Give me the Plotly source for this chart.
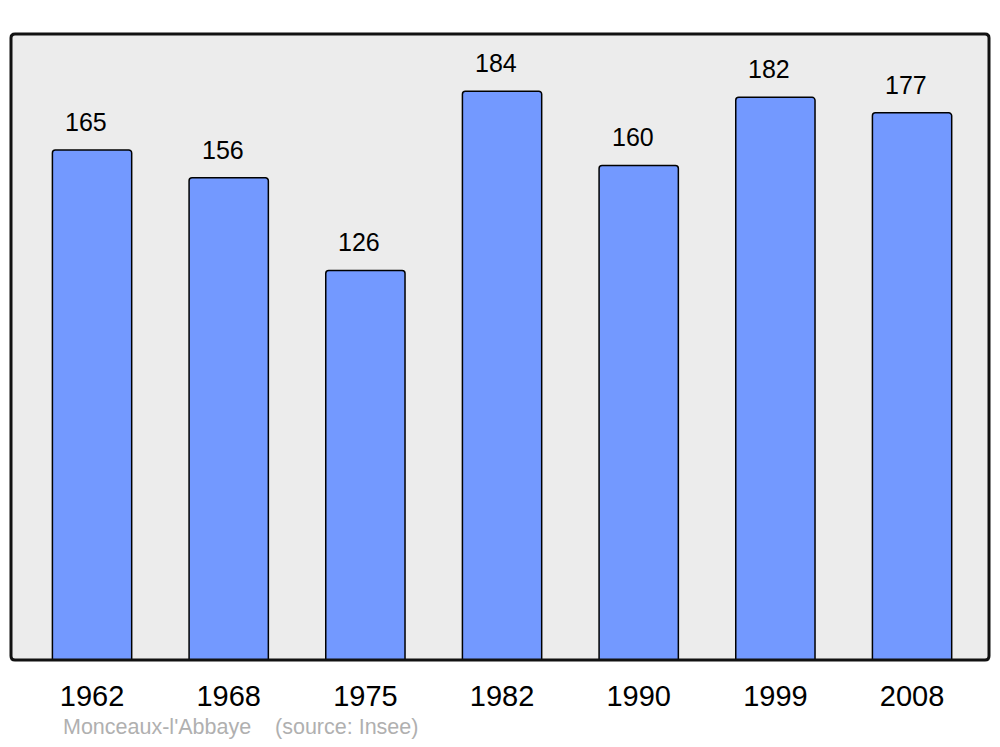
import plotly.graph_objects as go

years = ["1962", "1968", "1975", "1982", "1990", "1999", "2008"]
population = [165, 156, 126, 184, 160, 182, 177]
footer_text = "Monceaux-l'Abbaye    (source: Insee)"

# page body has an 8px margin; size figure so plot area lands on the reference pixels
OFF = 8
W, H = 1000 - 2 * OFF, 747 - 2 * OFF
ml, mr, mt, mb = 11 - OFF, W + OFF - 989, 34 - OFF, H + OFF - 660
PW, PH = W - ml - mr, H - mt - mb

xpos = list(range(len(years)))

fig = go.Figure()
fig.add_trace(go.Bar(
    x=xpos, y=population, width=0.58,
    marker=dict(color="#7399ff", line=dict(color="#000000", width=1.5), cornerradius=3),
    hoverinfo="skip",
))

for xi, v in zip(xpos, population):
    fig.add_annotation(x=xi, y=v, text=str(v), showarrow=False, yanchor="middle",
                       yshift=28, xshift=-6,
                       font=dict(family="Liberation Sans, Arial", size=25, color="#000"))

fig.add_annotation(xref="paper", yref="paper", x=(61 - 11) / PW, y=-(727 - 660) / PH,
                   xanchor="left", yanchor="middle", text=footer_text, showarrow=False,
                   font=dict(family="Liberation Sans, Arial", size=21.5, color="#b0b0b0"))

# rounded frame around the plot area (pixel radius converted to paper units)
r = 4
rx, ry = r / PW, r / PH
frame = (f"M {rx},0 L {1-rx},0 Q 1,0 1,{ry} L 1,{1-ry} Q 1,1 {1-rx},1 "
         f"L {rx},1 Q 0,1 0,{1-ry} L 0,{ry} Q 0,0 {rx},0 Z")
fig.add_shape(type="path", xref="paper", yref="paper", path=frame,
              line=dict(color="#111", width=3), layer="above")

fig.update_layout(
    width=W, height=H,
    margin=dict(l=ml, r=mr, t=mt, b=mb),
    paper_bgcolor="white", plot_bgcolor="#ececec",
    showlegend=False,
    xaxis=dict(range=[-0.593, 6.563], tickvals=xpos, ticktext=years, showgrid=False, zeroline=False,
               ticks="outside", ticklen=10, tickcolor="rgba(0,0,0,0)",
               tickfont=dict(family="Liberation Sans, Arial", size=29, color="#000"), fixedrange=True),
    yaxis=dict(range=[0, 202.5], showgrid=False, zeroline=False, showticklabels=False, fixedrange=True),
)

fig.write_html("out.html")
